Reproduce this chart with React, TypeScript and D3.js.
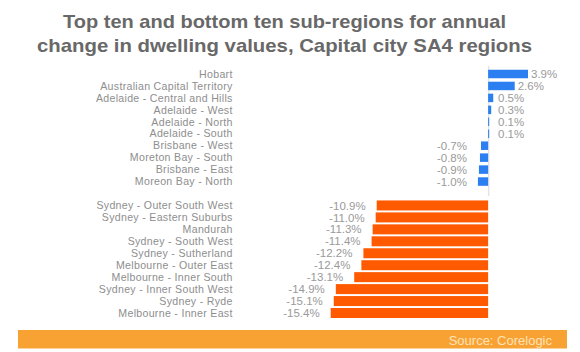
import React from "react";
import * as d3 from "d3";

const titleLines = [
  "Top ten and bottom ten sub-regions for annual",
  "change in dwelling values, Capital city SA4 regions",
];

const topRegions = [
  "Hobart",
  "Australian Capital Territory",
  "Adelaide - Central and Hills",
  "Adelaide - West",
  "Adelaide - North",
  "Adelaide - South",
  "Brisbane - West",
  "Moreton Bay - South",
  "Brisbane - East",
  "Moreon Bay - North",
];
const topValues = [3.9, 2.6, 0.5, 0.3, 0.1, 0.1, -0.7, -0.8, -0.9, -1.0];

const bottomRegions = [
  "Sydney - Outer South West",
  "Sydney - Eastern Suburbs",
  "Mandurah",
  "Sydney - South West",
  "Sydney - Sutherland",
  "Melbourne - Outer East",
  "Melbourne - Inner South",
  "Sydney - Inner South West",
  "Sydney - Ryde",
  "Melbourne - Inner East",
];
const bottomValues = [-10.9, -11.0, -11.3, -11.4, -12.2, -12.4, -13.1, -14.9, -15.1, -15.4];

const sourceText = "Source: Corelogic";

const W = 580;
const H = 352;

export default function App() {
  const rows = [
    ...topRegions.map((name, i) => ({ name, value: topValues[i], group: "top" })),
    { name: "__gap__", value: 0, group: "gap" },
    ...bottomRegions.map((name, i) => ({ name, value: bottomValues[i], group: "bottom" })),
  ];
  const allVals = [...topValues, ...bottomValues];
  const x = d3
    .scaleLinear()
    .domain([d3.min(allVals) as number, d3.max(allVals) as number])
    .range([330.7, 528]);
  const y = d3
    .scalePoint<string>()
    .domain(rows.map((r) => r.name))
    .range([74, 313]);

  const zero = x(0);
  const labelRight = 232.7;
  const fmt = (v: number) => `${v.toFixed(1)}%`;

  return (
    <svg
      width={W}
      height={H}
      style={{ position: "absolute", left: 0, top: 0, background: "#fff" }}
      fontFamily="'Liberation Sans', Arial, Helvetica, sans-serif"
    >
      <rect x={0} y={0} width={W} height={H} fill="#ffffff" />
      {titleLines.map((t, i) => (
        <text
          key={i}
          x={284.5}
          y={28 + i * 24}
          textAnchor="middle"
          fontSize={19}
          fontWeight="bold"
          fill="#686868"
          textLength={i === 0 ? 443 : 495}
          lengthAdjust="spacingAndGlyphs"
        >
          {t}
        </text>
      ))}

      <line x1={zero + 0.5} x2={zero + 0.5} y1={66} y2={196} stroke="#e4e4e4" strokeWidth={1.5} />

      {rows
        .filter((r) => r.group !== "gap")
        .map((r) => {
          const cy = y(r.name) as number;
          const h = r.group === "top" ? 8.5 : 10;
          const x0 = Math.min(x(r.value), zero);
          const w = Math.abs(x(r.value) - zero);
          const isTop = r.group === "top";
          const color = isTop ? "#2b7ff0" : "#ff5a00";
          const labelX =
            r.value >= 0 ? Math.max(x(r.value) + 3, 498) : Math.min(x(r.value) - 11, 467);
          return (
            <g key={r.name}>
              <rect x={x0} y={cy - h / 2} width={Math.max(w, 1)} height={h} fill={color} />
              <text
                x={labelRight}
                y={cy}
                dy="0.35em"
                textAnchor="end"
                fontSize={10.6}
                fill="#8e8e8e"
                letterSpacing={0.3}
              >
                {r.name}
              </text>
              <text
                x={labelX}
                y={cy}
                dy="0.36em"
                textAnchor={r.value >= 0 ? "start" : "end"}
                fontSize={11.5}
                fill="#9a9a9a"
              >
                {fmt(r.value)}
              </text>
            </g>
          );
        })}

      <rect x={18} y={330} width={549} height={18.5} fill="#f9a234" />
      <text x={552} y={344.5} textAnchor="end" fontSize={13} fill="#fde2b8">
        {sourceText}
      </text>
    </svg>
  );
}
